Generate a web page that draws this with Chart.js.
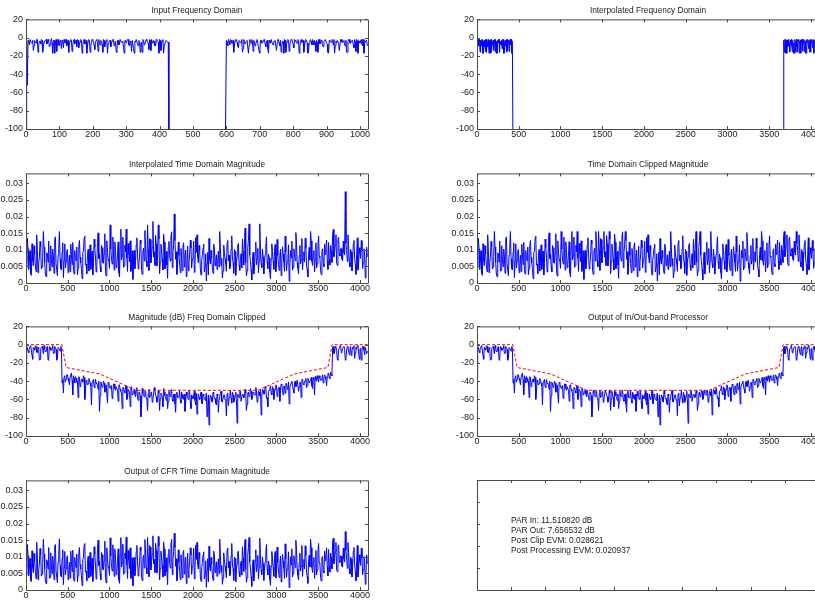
<!DOCTYPE html>
<html>
<head>
<meta charset="utf-8">
<script src="https://cdn.jsdelivr.net/npm/chart.js@4.4.1/dist/chart.umd.min.js"></script>
<style>
html, body { margin: 0; padding: 0; background: #fff; }
#fig { position: relative; width: 815px; height: 604px; overflow: hidden;
       font-family: "Liberation Sans", Arial, sans-serif; color: #222; }
#fig canvas { position: absolute; }
.ttl { position: absolute; width: 342px; text-align: center; font-size: 8.3px;
       line-height: 10px; white-space: nowrap; }
#notes { position: absolute; left: 511px; top: 515px; font-size: 8.3px;
         line-height: 10px; white-space: pre; }
</style>
</head>
<body>
<div id="fig"></div>
<script>
// ---- data ----

// tick positions
const dbTicks = [-100, -80, -60, -40, -20, 0, 20];
const binTicks = [0, 100, 200, 300, 400, 500, 600, 700, 800, 900, 1000];
const sampleTicks = [0, 500, 1000, 1500, 2000, 2500, 3000, 3500, 4000];
const magTicks = [0, 0.005, 0.01, 0.015, 0.02, 0.025, 0.03];
const boxTicksX = [0, 0.1, 0.2, 0.3, 0.4, 0.5, 0.6, 0.7, 0.8, 0.9, 1];
const boxTicksY = [0, 0.2, 0.4, 0.6, 0.8, 1];

// input spectrum (dB), sampled every 4 bins (even: 0,4,8.. odd: 2,6,10..)
// -150 stands for the empty bins between the carriers
const inputStep = 4;
const inputHighStart = 596;
const inputFreqLow = [
  -150, -52, -4, -2, -6, -3, -9, -5, -2, -16,
  -4, -7, -3, -10, -5, -2, -6, -4, -8, -1,
  -17, -3, -6, -15, -2, -9, -4, -3, -11, -5,
  -2, -7, -16, -4, -3, -8, -2, -5, -10, -3,
  -6, -2, -17, -4, -7, -3, -9, -2, -16, -5,
  -3, -8, -4, -2, -15, -6, -3, -7, -2, -10,
  -4, -17, -5, -3, -6, -2, -9, -4, -16, -3,
  -7, -2, -5, -11, -3, -6, -2, -8, -4, -15,
  -3, -17, -5, -2, -9, -4, -6, -16, -3, -7,
  -2, -5, -13, -3, -2, -6, -4, -9, -3, -5,
  -2, -14, -4, -17, -6, -3, -5, -150
];
const inputFreqLowOdd = [
  -6, -3, -8, -2, -5, -14, -3, -6, -2, -9,
  -4, -2, -16, -5, -3, -7, -2, -10, -4, -6,
  -3, -17, -2, -5, -8, -3, -12, -4, -2, -6,
  -9, -3, -5, -2, -15, -4, -7, -3, -2, -11,
  -5, -3, -8, -2, -6, -17, -4, -3, -9, -2,
  -5, -13, -3, -6, -2, -8, -4, -16, -3, -5,
  -2, -7, -3, -10, -4, -2, -6, -15, -3, -8,
  -2, -5, -4, -17, -3, -6, -2, -9, -5, -3,
  -12, -4, -2, -7, -3, -16, -5, -2, -8, -4,
  -3, -6, -2, -14, -5, -3, -9, -2, -4, -17,
  -3, -6, -2, -8, -4, -3, -5
];
const inputFreqHigh = [
  -150, -3, -9, -4, -2, -6, -3, -8, -2, -5,
  -11, -3, -6, -16, -2, -7, -4, -3, -9, -5,
  -2, -15, -4, -6, -2, -10, -17, -3, -5, -2,
  -7, -4, -12, -3, -6, -2, -8, -4, -3, -6,
  -2, -9, -16, -4, -17, -3, -6, -2, -15, -5,
  -3, -8, -2, -4, -6, -3, -10, -2, -5, -16,
  -4, -3, -17, -6, -2, -8, -4, -3, -15, -5,
  -2, -7, -3, -9, -4, -2, -6, -16, -3, -5,
  -2, -8, -17, -4, -3, -6, -14, -2, -5, -3,
  -9, -16, -4, -2, -6, -3, -8, -2, -15, -4,
  -3, -6, -2, -9, -17, -4, -3
];
const inputFreqHighOdd = [
  -150, -5, -2, -8, -3, -6, -16, -4, -2, -9,
  -3, -5, -2, -12, -4, -7, -3, -17, -2, -6,
  -4, -3, -9, -5, -2, -15, -3, -6, -4, -2,
  -10, -3, -17, -5, -2, -7, -4, -3, -14, -2,
  -6, -3, -8, -4, -2, -16, -5, -3, -7, -2,
  -4, -11, -3, -6, -2, -17, -4, -5, -3, -9,
  -2, -6, -15, -3, -4, -2, -8, -5, -3, -16,
  -2, -6, -4, -10, -3, -2, -7, -17, -4, -5,
  -3, -2, -9, -6, -3, -14, -2, -5, -4, -8,
  -3, -16, -2, -6, -4, -3, -11, -5, -2, -17,
  -4, -3, -7, -2, -6, -3, -9
];

// interpolated spectrum (dB), sampled every 8 bins (even: 0,8.. odd: 4,12..)
const interpStep = 8;
const interpHighStart = 3664;
const interpFreqLow = [
  -150, -3, -8, -2, -5, -16, -4, -9, -2, -6,
  -17, -3, -7, -15, -2, -5, -10, -3, -17, -6,
  -2, -8, -16, -4, -3, -9, -2, -15, -5, -7,
  -17, -3, -6, -2, -16, -4, -8, -3, -11, -2,
  -17, -5, -3, -9, -16, -2, -6, -4, -15, -3,
  -8, -2, -17, -5, -150
];
const interpFreqLowOdd = [
  -4, -9, -2, -6, -15, -3, -7, -2, -17, -5,
  -3, -10, -2, -6, -16, -4, -2, -8, -3, -17,
  -5, -2, -7, -4, -14, -3, -6, -2, -17, -4,
  -9, -3, -2, -16, -5, -7, -3, -12, -2, -6,
  -17, -4, -3, -8, -2, -15, -5, -3, -9, -2,
  -6, -16, -4
];
const interpFreqHigh = [
  -150, -4, -16, -2, -7, -3, -17, -5, -2, -9,
  -16, -3, -6, -2, -15, -4, -8, -17, -3, -5,
  -2, -10, -16, -4, -2, -7, -3, -17, -5, -2,
  -8, -4, -15, -3, -6, -17, -2, -5, -9, -3,
  -16, -2, -6, -4, -11, -3, -2, -8, -4, -15,
  -3, -6, -2, -5
];
const interpFreqHighOdd = [
  -150, -3, -8, -2, -17, -5, -3, -10, -2, -6,
  -15, -4, -2, -9, -3, -17, -6, -2, -4, -16,
  -3, -7, -2, -5, -17, -4, -9, -2, -3, -15,
  -6, -2, -8, -4, -17, -3, -5, -2, -12, -4,
  -3, -16, -6, -2, -9, -3, -17, -4, -2, -7,
  -3, -15, -5, -2
];

// time domain magnitudes, sampled every 16 samples (even: 0,16.. odd: 8,24..)
const sampleStep = 16;
const interpMag = [
  0.0082, 0.0135, 0.0041, 0.0097, 0.0023, 0.0068, 0.0112, 0.0054, 0.0145, 0.0031, 0.0076, 0.0109, 0.0048, 0.0155, 0.0062, 0.0019,
  0.0088, 0.0126, 0.0037, 0.0071, 0.0102, 0.0029, 0.0139, 0.0058, 0.0084, 0.0155, 0.0044, 0.0093, 0.0016, 0.0118, 0.0065, 0.0101,
  0.0052, 0.0034, 0.0086, 0.0122, 0.0027, 0.0074, 0.0108, 0.0045, 0.0128, 0.0061, 0.0013, 0.0096, 0.0141, 0.0057, 0.0083, 0.0036,
  0.0115, 0.0069, 0.0024, 0.0132, 0.0078, 0.0049, 0.0151, 0.0087, 0.0033, 0.0106, 0.0059, 0.0148, 0.0021, 0.0092, 0.0066, 0.0175,
  0.0072, 0.0138, 0.0039, 0.0099, 0.0056, 0.0124, 0.0018, 0.0162, 0.0081, 0.0047, 0.0113, 0.0162, 0.0035, 0.0089, 0.0127, 0.0053,
  0.0011, 0.0098, 0.0064, 0.0136, 0.0042, 0.0079, 0.0119, 0.0026, 0.0105, 0.0158, 0.0067, 0.0175, 0.0038, 0.0131, 0.0085, 0.0185,
  0.0094, 0.0143, 0.0051, 0.0175, 0.0028, 0.0117, 0.0073, 0.0147, 0.0043, 0.0095, 0.0014, 0.0125, 0.0066, 0.0154, 0.0091, 0.0208,
  0.0071, 0.0026, 0.0123, 0.0058, 0.0104, 0.0037, 0.0121, 0.0082, 0.0019, 0.0111, 0.0063, 0.0129, 0.0045, 0.0087, 0.0032, 0.0137,
  0.0145, 0.0061, 0.0099, 0.0024, 0.0083, 0.0117, 0.0049, 0.0006, 0.0092, 0.0134, 0.0057, 0.0076, 0.0029, 0.0108, 0.0068, 0.0041,
  0.0096, 0.0155, 0.0052, 0.0015, 0.0114, 0.0073, 0.0035, 0.0128, 0.0084, 0.0046, 0.0142, 0.0062, 0.0101, 0.0023, 0.0079, 0.0119,
  0.0038, 0.0088, 0.0132, 0.0054, 0.0165, 0.0021, 0.0107, 0.0178, 0.0064, 0.0009, 0.0093, 0.0048, 0.0123, 0.0072, 0.0031, 0.0178,
  0.0059, 0.0102, 0.0027, 0.0085, 0.0139, 0.0043, 0.0076, 0.0012, 0.0118, 0.0067, 0.0097, 0.0034, 0.0131, 0.0055, 0.0082, 0.0022,
  0.0109, 0.0063, 0.0141, 0.0036, 0.0074, 0.0005, 0.0098, 0.0126, 0.0047, 0.0089, 0.0152, 0.0061, 0.0028, 0.0113, 0.0071, 0.0039,
  0.0094, 0.0135, 0.0052, 0.0018, 0.0107, 0.0155, 0.0066, 0.0084, 0.0033, 0.0121, 0.0058, 0.0142, 0.0077, 0.0025, 0.0103, 0.0049,
  0.0086, 0.0129, 0.0041, 0.0072, 0.0113, 0.0062, 0.0161, 0.0095, 0.0145, 0.0053, 0.0138, 0.0081, 0.0104, 0.0067, 0.0092, 0.0275,
  0.0098, 0.0145, 0.0063, 0.0101, 0.0037, 0.0118, 0.0074, 0.0026, 0.0136, 0.0058, 0.0089, 0.0128, 0.0044, 0.0103, 0.0015, 0.0108
];
// odd samples stay below the clip level, so the clipper and the CFR output share them
const interpMagOdd = [
  0.0047, 0.0103, 0.0066, 0.0029, 0.0118, 0.0052, 0.0087, 0.0034, 0.0099, 0.0061, 0.0125, 0.0042, 0.0079, 0.0108, 0.0027, 0.0091,
  0.0063, 0.0036, 0.0112, 0.0049, 0.0081, 0.0132, 0.0058, 0.0022, 0.0104, 0.0073, 0.0039, 0.0121, 0.0068, 0.0045, 0.0095, 0.0031,
  0.0084, 0.0117, 0.0056, 0.0038, 0.0098, 0.0067, 0.0025, 0.0109, 0.0077, 0.0043, 0.0092, 0.0135, 0.0054, 0.0028, 0.0101, 0.0069,
  0.0041, 0.0096, 0.0059, 0.0107, 0.0033, 0.0122, 0.0074, 0.0048, 0.0113, 0.0062, 0.0089, 0.0037, 0.0127, 0.0071, 0.0044, 0.0102,
  0.0057, 0.0091, 0.0124, 0.0046, 0.0083, 0.0031, 0.0106, 0.0069, 0.0138, 0.0052, 0.0094, 0.0076, 0.0119, 0.0064, 0.0035, 0.0097,
  0.0072, 0.0043, 0.0115, 0.0088, 0.0057, 0.0129, 0.0038, 0.0093, 0.0066, 0.0112, 0.0049, 0.0101, 0.0134, 0.0061, 0.0107, 0.0078,
  0.0053, 0.0118, 0.0086, 0.0132, 0.0064, 0.0097, 0.0039, 0.0123, 0.0071, 0.0054, 0.0108, 0.0082, 0.0139, 0.0046, 0.0115, 0.0128,
  0.0094, 0.0057, 0.0083, 0.0031, 0.0076, 0.0112, 0.0048, 0.0099, 0.0062, 0.0037, 0.0087, 0.0105, 0.0071, 0.0126, 0.0056, 0.0092,
  0.0078, 0.0113, 0.0042, 0.0067, 0.0105, 0.0033, 0.0088, 0.0059, 0.0024, 0.0071, 0.0098, 0.0046, 0.0117, 0.0052, 0.0085, 0.0063,
  0.0049, 0.0107, 0.0074, 0.0036, 0.0091, 0.0058, 0.0121, 0.0067, 0.0043, 0.0102, 0.0078, 0.0029, 0.0095, 0.0061, 0.0113, 0.0054,
  0.0071, 0.0045, 0.0096, 0.0118, 0.0062, 0.0037, 0.0128, 0.0084, 0.0041, 0.0069, 0.0027, 0.0088, 0.0055, 0.0104, 0.0066, 0.0093,
  0.0046, 0.0079, 0.0058, 0.0111, 0.0064, 0.0087, 0.0032, 0.0071, 0.0095, 0.0041, 0.0116, 0.0057, 0.0083, 0.0038, 0.0102, 0.0069,
  0.0087, 0.0035, 0.0094, 0.0062, 0.0115, 0.0048, 0.0076, 0.0039, 0.0103, 0.0067, 0.0121, 0.0044, 0.0082, 0.0057, 0.0134, 0.0072,
  0.0063, 0.0104, 0.0041, 0.0086, 0.0069, 0.0127, 0.0053, 0.0098, 0.0074, 0.0045, 0.0112, 0.0081, 0.0037, 0.0096, 0.0058, 0.0117,
  0.0107, 0.0068, 0.0122, 0.0054, 0.0097, 0.0143, 0.0079, 0.0115, 0.0061, 0.0131, 0.0088, 0.0103, 0.0072, 0.0126, 0.0084, 0.0119,
  0.0065, 0.0112, 0.0048, 0.0093, 0.0071, 0.0128, 0.0056, 0.0085, 0.0039, 0.0106, 0.0074, 0.0097, 0.0062, 0.0081, 0.0046, 0.0079
];
const clippedMag = [
  0.0082, 0.0135, 0.0041, 0.0097, 0.0023, 0.0068, 0.0112, 0.0054, 0.0145, 0.0031, 0.0076, 0.0109, 0.0048, 0.0155, 0.0062, 0.0019,
  0.0088, 0.0126, 0.0037, 0.0071, 0.0102, 0.0029, 0.0139, 0.0058, 0.0084, 0.0155, 0.0044, 0.0093, 0.0016, 0.0118, 0.0065, 0.0101,
  0.0052, 0.0034, 0.0086, 0.0122, 0.0027, 0.0074, 0.0108, 0.0045, 0.0128, 0.0061, 0.0013, 0.0096, 0.0141, 0.0057, 0.0083, 0.0036,
  0.0115, 0.0069, 0.0024, 0.0132, 0.0078, 0.0049, 0.0151, 0.0087, 0.0033, 0.0106, 0.0059, 0.0148, 0.0021, 0.0092, 0.0066, 0.0155,
  0.0072, 0.0138, 0.0039, 0.0099, 0.0056, 0.0124, 0.0018, 0.0155, 0.0081, 0.0047, 0.0113, 0.0155, 0.0035, 0.0089, 0.0127, 0.0053,
  0.0011, 0.0098, 0.0064, 0.0136, 0.0042, 0.0079, 0.0119, 0.0026, 0.0105, 0.0155, 0.0067, 0.0155, 0.0038, 0.0131, 0.0085, 0.0155,
  0.0094, 0.0143, 0.0051, 0.0155, 0.0028, 0.0117, 0.0073, 0.0147, 0.0043, 0.0095, 0.0014, 0.0125, 0.0066, 0.0154, 0.0091, 0.0155,
  0.0071, 0.0026, 0.0123, 0.0058, 0.0104, 0.0037, 0.0121, 0.0082, 0.0019, 0.0111, 0.0063, 0.0129, 0.0045, 0.0087, 0.0032, 0.0137,
  0.0145, 0.0061, 0.0099, 0.0024, 0.0083, 0.0117, 0.0049, 0.0006, 0.0092, 0.0134, 0.0057, 0.0076, 0.0029, 0.0108, 0.0068, 0.0041,
  0.0096, 0.0155, 0.0052, 0.0015, 0.0114, 0.0073, 0.0035, 0.0128, 0.0084, 0.0046, 0.0142, 0.0062, 0.0101, 0.0023, 0.0079, 0.0119,
  0.0038, 0.0088, 0.0132, 0.0054, 0.0155, 0.0021, 0.0107, 0.0155, 0.0064, 0.0009, 0.0093, 0.0048, 0.0123, 0.0072, 0.0031, 0.0155,
  0.0059, 0.0102, 0.0027, 0.0085, 0.0139, 0.0043, 0.0076, 0.0012, 0.0118, 0.0067, 0.0097, 0.0034, 0.0131, 0.0055, 0.0082, 0.0022,
  0.0109, 0.0063, 0.0141, 0.0036, 0.0074, 0.0005, 0.0098, 0.0126, 0.0047, 0.0089, 0.0152, 0.0061, 0.0028, 0.0113, 0.0071, 0.0039,
  0.0094, 0.0135, 0.0052, 0.0018, 0.0107, 0.0155, 0.0066, 0.0084, 0.0033, 0.0121, 0.0058, 0.0142, 0.0077, 0.0025, 0.0103, 0.0049,
  0.0086, 0.0129, 0.0041, 0.0072, 0.0113, 0.0062, 0.0155, 0.0095, 0.0145, 0.0053, 0.0138, 0.0081, 0.0104, 0.0067, 0.0092, 0.0155,
  0.0098, 0.0145, 0.0063, 0.0101, 0.0037, 0.0118, 0.0074, 0.0026, 0.0136, 0.0058, 0.0089, 0.0128, 0.0044, 0.0103, 0.0015, 0.0108
];
const cfrMag = [
  0.0079, 0.0137, 0.0043, 0.0095, 0.0025, 0.0068, 0.0110, 0.0056, 0.0144, 0.0031, 0.0078, 0.0107, 0.0048, 0.0153, 0.0064, 0.0019,
  0.0086, 0.0128, 0.0037, 0.0073, 0.0102, 0.0031, 0.0137, 0.0058, 0.0086, 0.0154, 0.0044, 0.0095, 0.0016, 0.0116, 0.0065, 0.0103,
  0.0052, 0.0036, 0.0086, 0.0120, 0.0027, 0.0076, 0.0108, 0.0043, 0.0128, 0.0063, 0.0013, 0.0098, 0.0140, 0.0057, 0.0081, 0.0036,
  0.0113, 0.0069, 0.0026, 0.0130, 0.0078, 0.0051, 0.0150, 0.0087, 0.0031, 0.0106, 0.0061, 0.0147, 0.0021, 0.0094, 0.0066, 0.0157,
  0.0072, 0.0136, 0.0041, 0.0099, 0.0054, 0.0124, 0.0020, 0.0158, 0.0081, 0.0047, 0.0111, 0.0159, 0.0035, 0.0091, 0.0127, 0.0051,
  0.0013, 0.0098, 0.0062, 0.0134, 0.0042, 0.0081, 0.0119, 0.0028, 0.0105, 0.0152, 0.0067, 0.0158, 0.0040, 0.0129, 0.0085, 0.0163,
  0.0092, 0.0141, 0.0051, 0.0161, 0.0030, 0.0117, 0.0075, 0.0145, 0.0043, 0.0097, 0.0016, 0.0123, 0.0066, 0.0152, 0.0093, 0.0171,
  0.0071, 0.0028, 0.0121, 0.0058, 0.0106, 0.0037, 0.0119, 0.0084, 0.0019, 0.0111, 0.0061, 0.0127, 0.0047, 0.0087, 0.0034, 0.0135,
  0.0143, 0.0063, 0.0097, 0.0026, 0.0083, 0.0115, 0.0049, 0.0008, 0.0094, 0.0132, 0.0057, 0.0078, 0.0029, 0.0106, 0.0070, 0.0041,
  0.0094, 0.0153, 0.0054, 0.0017, 0.0112, 0.0073, 0.0037, 0.0126, 0.0086, 0.0046, 0.0140, 0.0064, 0.0099, 0.0025, 0.0079, 0.0117,
  0.0040, 0.0086, 0.0130, 0.0056, 0.0152, 0.0023, 0.0105, 0.0158, 0.0066, 0.0011, 0.0091, 0.0050, 0.0121, 0.0072, 0.0033, 0.0156,
  0.0061, 0.0100, 0.0029, 0.0085, 0.0137, 0.0045, 0.0074, 0.0014, 0.0116, 0.0069, 0.0095, 0.0036, 0.0129, 0.0057, 0.0080, 0.0024,
  0.0107, 0.0065, 0.0139, 0.0038, 0.0072, 0.0007, 0.0100, 0.0124, 0.0049, 0.0087, 0.0150, 0.0063, 0.0030, 0.0111, 0.0073, 0.0041,
  0.0092, 0.0133, 0.0054, 0.0020, 0.0105, 0.0153, 0.0068, 0.0082, 0.0035, 0.0119, 0.0060, 0.0140, 0.0079, 0.0027, 0.0101, 0.0051,
  0.0088, 0.0127, 0.0043, 0.0074, 0.0111, 0.0064, 0.0156, 0.0097, 0.0143, 0.0055, 0.0136, 0.0083, 0.0102, 0.0069, 0.0094, 0.0176,
  0.0096, 0.0143, 0.0065, 0.0099, 0.0039, 0.0116, 0.0076, 0.0028, 0.0134, 0.0060, 0.0087, 0.0126, 0.0046, 0.0101, 0.0017, 0.0106
];

// spectra after clipping / after in-out band processing (dB), every 16 bins
const clipSpectrumDb = [
  -36, -3, -9, -2, -6, -16, -4, -1, -8, -3, -17, -5, -2, -10, -4, -7, -2, -15, -3, -6, -1, -9, -4, -17, -3, -5, -2,
  -42, -53, -34, -38, -33, -40, -36, -31, -55, -37,
  -35, -41, -58, -36, -43, -38, -34, -60, -39, -44,
  -37, -42, -66, -40, -46, -38, -43, -49, -73, -41,
  -47, -40, -52, -44, -64, -42, -48, -45, -55, -43,
  -50, -46, -62, -44, -51, -70, -47, -53, -45, -58,
  -49, -68, -46, -54, -50, -57, -47, -61, -52, -79,
  -48, -55, -51, -59, -72, -49, -56, -52, -60, -47,
  -55, -63, -50, -72, -53, -58, -48, -56, -61, -70,
  -51, -57, -49, -62, -54, -74, -52, -58, -50, -64,
  -55, -60, -73, -52, -57, -50, -63, -55, -59, -51,
  -66, -76, -54, -60, -52, -65, -56, -61, -53, -68,
  -88, -55, -62, -52, -59, -64, -54, -74, -57, -51,
  -63, -55, -60, -78, -53, -58, -50, -64, -55, -61,
  -52, -86, -56, -50, -62, -54, -58, -49, -72, -53,
  -57, -48, -60, -52, -55, -47, -63, -51, -56, -77,
  -49, -54, -46, -59, -68, -50, -45, -55, -48, -52,
  -44, -57, -47, -62, -43, -50, -45, -53, -42, -48,
  -65, -44, -40, -49, -42, -46, -39, -51, -41, -58,
  -38, -44, -40, -47, -37, -42, -39, -45, -36, -55,
  -38, -34, -41, -36, -39, -33, -37, -35, -45, -32,
  -36, -30, -34,
  -2, -8, -3, -16, -5, -1, -9, -4, -2, -17, -6, -3, -11, -2, -7, -4, -15, -3, -1, -8, -5, -17, -2, -6, -3, -10
];
const processedSpectrumDb = [
  -36, -3, -9, -2, -6, -16, -4, -1, -8, -3, -17, -5, -2, -10, -4, -7, -2, -15, -3, -6, -1, -9, -4, -17, -3, -5, -2,
  -42, -53, -34, -38, -33, -40, -36, -31, -55, -37,
  -35, -41, -58, -36, -43, -38, -34, -60, -39, -44,
  -37, -42, -66, -40, -46, -38, -43, -49, -73, -41,
  -47, -40, -52, -44, -64, -42, -48, -45, -55, -43,
  -50, -46, -62, -44, -51, -70, -47, -53, -45, -58,
  -49, -68, -48, -54, -50, -57, -50, -61, -52, -79,
  -50, -55, -51, -59, -72, -50, -56, -51, -60, -50,
  -55, -63, -50, -72, -51, -58, -50, -56, -61, -70,
  -51, -57, -50, -62, -54, -74, -50, -58, -50, -64,
  -55, -60, -73, -51, -57, -50, -63, -55, -59, -51,
  -66, -76, -54, -60, -50, -65, -56, -61, -53, -68,
  -88, -55, -62, -50, -59, -64, -54, -74, -57, -50,
  -63, -55, -60, -78, -53, -58, -50, -64, -55, -61,
  -51, -86, -56, -50, -62, -54, -58, -50, -72, -53,
  -57, -50, -60, -50, -55, -50, -63, -51, -56, -77,
  -49, -54, -47, -59, -68, -50, -45, -55, -48, -52,
  -44, -57, -47, -62, -43, -50, -45, -53, -42, -48,
  -65, -44, -40, -49, -42, -46, -39, -51, -41, -58,
  -38, -44, -40, -47, -37, -42, -39, -45, -36, -55,
  -38, -34, -41, -36, -39, -33, -37, -35, -45, -32,
  -36, -30, -34,
  -2, -8, -3, -16, -5, -1, -9, -4, -2, -17, -6, -3, -11, -2, -7, -4, -15, -3, -1, -8, -5, -17, -2, -6, -3, -10
];
// odd bins (8, 24, 40 ..) already sit under the mask, so both spectra share them
const spectrumOddDb = [
  -2, -7, -4, -1, -12, -3, -6, -2, -9, -4, -16, -3, -5, -1, -8, -3, -17, -2, -6, -4, -10, -2, -5, -15, -3, -7, -4,
  -38, -35, -41, -33, -37, -44, -36, -39, -34, -42,
  -37, -40, -35, -46, -38, -41, -36, -52, -40, -43,
  -39, -45, -41, -38, -47, -42, -44, -40, -56, -43,
  -46, -42, -49, -44, -41, -47, -45, -59, -43, -48,
  -46, -50, -44, -49, -53, -47, -51, -46, -60, -49,
  -52, -48, -55, -51, -54, -50, -58, -52, -56, -66,
  -53, -57, -51, -60, -54, -58, -52, -63, -55, -50,
  -57, -61, -53, -59, -55, -68, -52, -58, -54, -62,
  -56, -51, -60, -55, -65, -53, -58, -57, -61, -52,
  -59, -54, -63, -56, -60, -52, -70, -57, -55, -61,
  -53, -62, -58, -56, -64, -54, -60, -57, -79, -55,
  -61, -57, -63, -54, -59, -66, -56, -60, -53, -62,
  -58, -55, -61, -54, -67, -57, -59, -52, -63, -56,
  -60, -54, -58, -51, -62, -55, -57, -53, -65, -52,
  -56, -51, -59, -53, -55, -50, -61, -52, -49, -57,
  -50, -54, -47, -58, -51, -48, -53, -46, -60, -49,
  -45, -52, -47, -50, -44, -55, -46, -43, -49, -41,
  -47, -42, -45, -53, -40, -44, -39, -46, -42, -38,
  -43, -40, -37, -45, -39, -42, -36, -48, -38, -35,
  -40, -37, -34, -39, -36, -42, -33, -38, -35, -31,
  -37, -33,
  -3, -10, -2, -6, -17, -4, -1, -8, -3, -5, -15, -2, -7, -4, -12, -3, -1, -9, -5, -2, -16, -4, -6, -2, -11, -3, -7
];

// spectral mask (red dashed)
const maskBins = [0, 430, 480, 880, 1320, 2776, 3216, 3616, 3666, 4096];
const maskDb = [0, 0, -25, -32, -50, -50, -32, -25, 0, 0];

const notes = [
  'PAR In: 11.510820 dB',
  'PAR Out: 7.656532 dB',
  'Post Clip EVM: 0.028621',
  'Post Processing EVM: 0.020937'
];

// ---- layout ----
const COL_LEFT = [26, 477];
const ROW_TOP = [19, 173, 326, 480];
const PLOT_W = 342, PLOT_H = 110;
const AXIS_W = 34, AXIS_H = 16, PAD_TOP = 8, PAD_RIGHT = 24;
const TICK_LEN = 3;
const FONT = { family: "'Liberation Sans', Arial, sans-serif", size: 9 };
const fig = document.getElementById('fig');

function series(values, start, step) {
  return values.map((v, i) => ({ x: start + i * step, y: v }));
}

// merge sample sets that sit on interleaved grids into one ordered trace
function merged(...parts) {
  return [].concat(...parts).sort((a, b) => a.x - b.x);
}

function trace(data) {
  return { data, borderColor: '#0000ff', borderWidth: 1, pointRadius: 0, tension: 0 };
}

function maskTrace() {
  return {
    data: maskBins.map((b, i) => ({ x: b, y: maskDb[i] })),
    borderColor: '#ff0000', borderWidth: 1, borderDash: [3, 2], pointRadius: 0, tension: 0
  };
}

// MATLAB style box with inward ticks on every side
const matlabBox = {
  id: 'matlabBox',
  afterDatasetsDraw(chart) {
    const { ctx, chartArea: a, scales } = chart;
    ctx.save();
    ctx.strokeStyle = '#4a4a4a';
    ctx.lineWidth = 1;
    ctx.beginPath();
    scales.x.ticks.forEach(t => {
      const px = Math.round(scales.x.getPixelForValue(t.value)) + 0.5;
      ctx.moveTo(px, a.bottom); ctx.lineTo(px, a.bottom - TICK_LEN);
      ctx.moveTo(px, a.top); ctx.lineTo(px, a.top + TICK_LEN);
    });
    scales.y.ticks.forEach(t => {
      const py = Math.round(scales.y.getPixelForValue(t.value)) + 0.5;
      ctx.moveTo(a.left, py); ctx.lineTo(a.left + TICK_LEN, py);
      ctx.moveTo(a.right, py); ctx.lineTo(a.right - TICK_LEN, py);
    });
    ctx.rect(a.left + 0.5, a.top + 0.5, a.right - a.left, a.bottom - a.top);
    ctx.stroke();
    ctx.restore();
  }
};

function tickLabel(v) {
  return String(parseFloat(Number(v).toFixed(4)));
}

function addAxes(col, row, title, datasets, xMax, xTicks, yMin, yMax, yTicks, showLabels = true) {
  const canvas = document.createElement('canvas');
  canvas.width = AXIS_W + PLOT_W + PAD_RIGHT;
  canvas.height = PAD_TOP + PLOT_H + AXIS_H;
  canvas.style.left = (COL_LEFT[col] - AXIS_W) + 'px';
  canvas.style.top = (ROW_TOP[row] - PAD_TOP) + 'px';
  fig.appendChild(canvas);

  if (title) {
    const t = document.createElement('div');
    t.className = 'ttl';
    t.textContent = title;
    t.style.left = COL_LEFT[col] + 'px';
    t.style.top = (ROW_TOP[row] - 14.5) + 'px';
    fig.appendChild(t);
  }

  const scaleBase = {
    type: 'linear',
    grid: { display: false, drawTicks: false, tickLength: 0 },
    border: { display: false }
  };

  return new Chart(canvas, {
    type: 'line',
    data: { datasets },
    options: {
      responsive: false,
      animation: false,
      devicePixelRatio: 1,
      layout: { padding: { top: PAD_TOP, right: PAD_RIGHT, bottom: 0, left: 0 } },
      plugins: { legend: { display: false }, tooltip: { enabled: false } },
      scales: {
        x: {
          ...scaleBase, min: 0, max: xMax,
          afterBuildTicks: s => { s.ticks = xTicks.map(v => ({ value: v })); },
          afterFit: s => { s.height = AXIS_H; },
          ticks: { display: showLabels, font: FONT, color: '#222', padding: 0,
                   maxRotation: 0, autoSkip: false, callback: tickLabel }
        },
        y: {
          ...scaleBase, min: yMin, max: yMax,
          afterBuildTicks: s => { s.ticks = yTicks.map(v => ({ value: v })); },
          afterFit: s => { s.width = AXIS_W; },
          ticks: { display: showLabels, font: FONT, color: '#222', padding: 3,
                   autoSkip: false, callback: tickLabel }
        }
      }
    },
    plugins: [matlabBox]
  });
}

addAxes(0, 0, 'Input Frequency Domain',
  [trace(merged(
    series(inputFreqLow, 0, inputStep), series(inputFreqLowOdd, inputStep / 2, inputStep),
    series(inputFreqHigh, inputHighStart, inputStep),
    series(inputFreqHighOdd, inputHighStart + inputStep / 2, inputStep)))],
  1024, binTicks, -100, 20, dbTicks);

addAxes(1, 0, 'Interpolated Frequency Domain',
  [trace(merged(
    series(interpFreqLow, 0, interpStep), series(interpFreqLowOdd, interpStep / 2, interpStep),
    series(interpFreqHigh, interpHighStart, interpStep),
    series(interpFreqHighOdd, interpHighStart + interpStep / 2, interpStep)))],
  4096, sampleTicks, -100, 20, dbTicks);

const oddTime = series(interpMagOdd, sampleStep / 2, sampleStep);

addAxes(0, 1, 'Interpolated Time Domain Magnitude',
  [trace(merged(series(interpMag, 0, sampleStep), oddTime))],
  4096, sampleTicks, 0, 0.033, magTicks);

addAxes(1, 1, 'Time Domain Clipped Magnitude',
  [trace(merged(series(clippedMag, 0, sampleStep), oddTime))],
  4096, sampleTicks, 0, 0.033, magTicks);

const oddSpectrum = series(spectrumOddDb, sampleStep / 2, sampleStep);

addAxes(0, 2, 'Magnitude (dB) Freq Domain Clipped',
  [maskTrace(), trace(merged(series(clipSpectrumDb, 0, sampleStep), oddSpectrum))],
  4096, sampleTicks, -100, 20, dbTicks);

addAxes(1, 2, 'Output of In/Out-band Processor',
  [maskTrace(), trace(merged(series(processedSpectrumDb, 0, sampleStep), oddSpectrum))],
  4096, sampleTicks, -100, 20, dbTicks);

addAxes(0, 3, 'Output of CFR Time Domain Magnitude',
  [trace(merged(series(cfrMag, 0, sampleStep), oddTime))],
  4096, sampleTicks, 0, 0.033, magTicks);

// empty axes holding the summary text
addAxes(1, 3, null, [], 1, boxTicksX, 0, 1, boxTicksY, false);

const noteBox = document.createElement('div');
noteBox.id = 'notes';
noteBox.textContent = notes.join('\n');
fig.appendChild(noteBox);
</script>
</body>
</html>
